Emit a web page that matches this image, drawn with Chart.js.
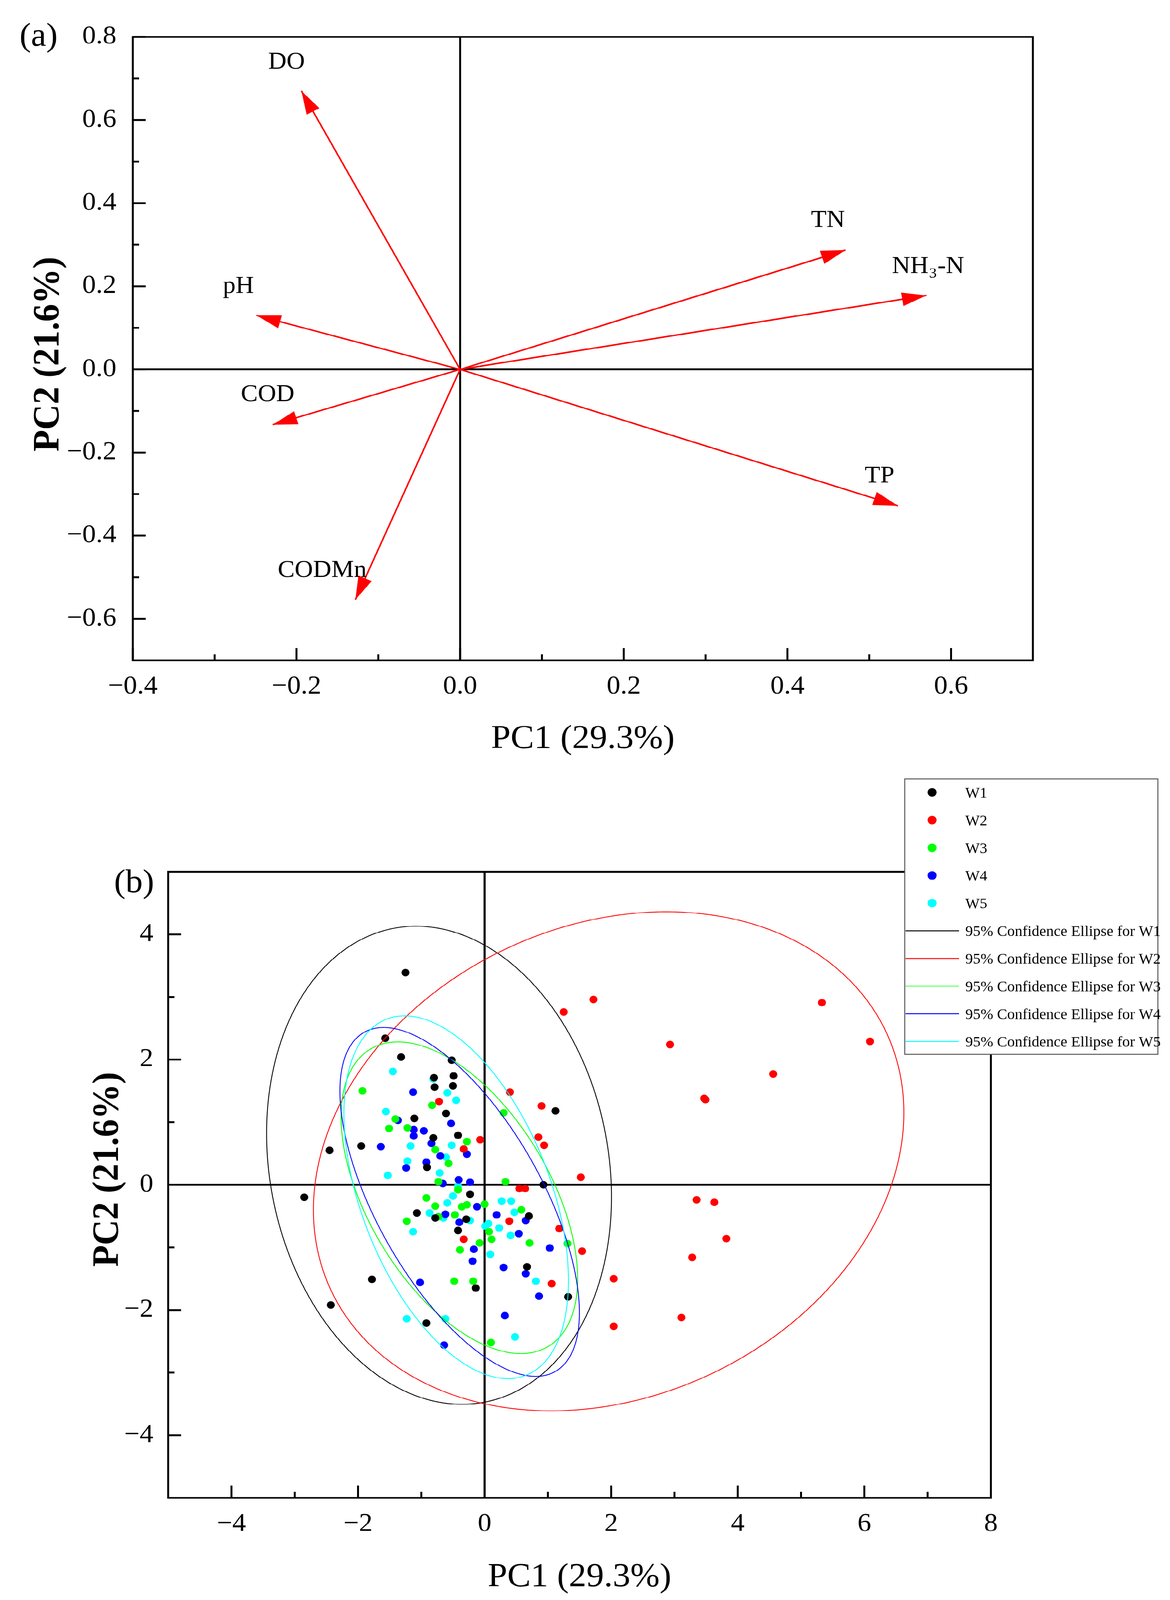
<!DOCTYPE html>
<html><head><meta charset="utf-8">
<script src="https://cdn.jsdelivr.net/npm/chart.js@4.4.1/dist/chart.umd.min.js"></script>
<style>html,body{margin:0;padding:0;background:#fff;overflow:hidden}#wrap{position:absolute;left:0;top:0;width:2995px;height:4337px;transform-origin:0 0}canvas{position:absolute;left:0}</style>
</head><body>
<div id="wrap">
<canvas id="ca" width="2995" height="2150" style="top:0px;width:2995px;height:2150px"></canvas>
<canvas id="cb" width="2995" height="2257" style="top:2080px;width:2995px;height:2257px"></canvas>
</div>
<script>
// ================= DATA =================
// Panel (a): PCA loadings
const loadingVars = ['DO', 'TN', 'NH₃-N', 'TP', 'pH', 'COD', 'CODMn'];
const loadingPC1 = [-0.194, 0.471, 0.570, 0.535, -0.249, -0.229, -0.128];
const loadingPC2 = [0.670, 0.287, 0.178, -0.328, 0.130, -0.133, -0.554];
const xTicksA = [-0.4, -0.2, 0, 0.2, 0.4, 0.6];
const xTickLabelsA = ['−0.4', '−0.2', '0.0', '0.2', '0.4', '0.6'];
const yTicksA = [0.8, 0.6, 0.4, 0.2, 0, -0.2, -0.4, -0.6];
const yTickLabelsA = ['0.8', '0.6', '0.4', '0.2', '0.0', '−0.2', '−0.4', '−0.6'];
const axisTitleXA = 'PC1 (29.3%)';
const axisTitleYA = 'PC2 (21.6%)';

// Panel (b): PCA scores
const groups = ['W1', 'W2', 'W3', 'W4', 'W5'];
const w1PC1 = [-1.25, -1.57, -1.32, -0.52, -0.49, -0.80, -0.79, -0.50, -0.61, -1.11, -0.42, -0.81, 1.12, -0.91, 0.93, -0.23, -1.07, -0.78, -0.29, -0.42, 0.70, 0.67, -0.14, 1.32, -0.92, -2.45, -1.95, -2.85, -1.78, -2.43];
const w1PC2 = [3.39, 2.34, 2.04, 1.99, 1.74, 1.71, 1.56, 1.58, 1.14, 1.06, 0.79, 0.75, 1.18, 0.28, 0.00, -0.15, -0.45, -0.53, -0.55, -0.73, -0.50, -1.31, -1.65, -1.79, -2.21, 0.55, 0.62, -0.20, -1.51, -1.92];
const w2PC1 = [-0.72, 0.40, 0.90, -0.07, -0.33, 0.85, 0.94, 0.55, 0.64, 1.25, 1.72, 2.93, 5.33, 6.09, 4.56, 3.47, 3.49, 1.52, 3.35, 3.63, 1.18, 1.54, 3.82, 3.28, 2.04, 1.06, 3.11, 2.04, 0.39, -0.33];
const w2PC2 = [1.33, 1.48, 1.26, 0.72, 0.57, 0.76, 0.63, -0.06, -0.06, 2.76, 2.96, 2.24, 2.91, 2.29, 1.77, 1.38, 1.36, 0.12, -0.24, -0.28, -0.70, -1.06, -0.86, -1.16, -1.50, -1.58, -2.12, -2.26, -0.58, -0.87];
const w3PC1 = [-1.93, -0.83, 0.30, -1.41, -1.51, -1.22, -0.28, -0.78, -0.57, -0.73, 0.33, -0.42, -0.92, -0.78, -0.73, -1.23, -0.47, -0.36, -0.28, 0.00, 0.58, 0.07, 0.11, -0.08, -0.39, 0.71, 1.31, -0.48, -0.18, 0.10];
const w3PC2 = [1.50, 1.27, 1.15, 1.05, 0.90, 0.91, 0.69, 0.56, 0.34, 0.05, 0.05, -0.08, -0.21, -0.34, -0.51, -0.58, -0.48, -0.35, -0.32, -0.31, -0.40, -0.75, -0.87, -0.93, -1.04, -0.93, -0.94, -1.54, -1.54, -2.52];
const w4PC1 = [-1.13, -1.37, -0.53, -1.12, -0.96, -1.12, -1.64, -0.84, -0.28, -0.70, -0.92, -1.24, -0.41, -0.23, -0.66, -0.62, -0.40, -0.12, 0.19, 0.65, 0.54, -0.17, -0.19, 0.30, 0.65, 1.03, -1.02, 0.86, 0.32, -0.64];
const w4PC2 = [1.48, 1.03, 0.98, 0.88, 0.86, 0.78, 0.61, 0.66, 0.49, 0.46, 0.36, 0.27, 0.08, 0.04, 0.02, -0.47, -0.60, -0.35, -0.48, -0.57, -0.78, -1.03, -1.22, -1.32, -1.42, -1.01, -1.56, -1.78, -2.09, -2.56];
const w5PC1 = [-1.45, -0.81, -0.59, -0.45, -1.56, -1.17, -0.52, -0.61, -1.22, -1.53, -0.71, -0.42, -0.50, -0.59, -0.87, -0.65, -0.23, -1.13, 0.27, 0.42, 0.47, 0.06, 0.01, 0.23, 0.41, 0.09, 0.81, -1.23, -0.62, 0.48];
const w5PC2 = [1.81, 1.69, 1.47, 1.35, 1.17, 0.62, 0.63, 0.44, 0.38, 0.15, 0.19, -0.02, -0.18, -0.29, -0.45, -0.53, -0.57, -0.75, -0.26, -0.26, -0.44, -0.62, -0.66, -0.69, -0.81, -1.11, -1.54, -2.14, -2.14, -2.43];
// 95% confidence ellipses: centre, half-width, half-height, correlation
const ellipseCX = [-0.720, 1.960, -0.399, -0.394, -0.449];
const ellipseCY = [0.312, 0.375, -0.207, -0.274, -0.199];
const ellipseRX = [2.725, 4.665, 1.869, 1.892, 1.774];
const ellipseRY = [3.818, 3.985, 2.489, 2.786, 2.897];
const ellipseRho = [-0.133, 0.195, -0.520, -0.635, -0.460];
const xTicksB = [-4, -2, 0, 2, 4, 6, 8];
const xTickLabelsB = ['−4', '−2', '0', '2', '4', '6', '8'];
const yTicksB = [4, 2, 0, -2, -4];
const yTickLabelsB = ['4', '2', '0', '−2', '−4'];
const axisTitleXB = 'PC1 (29.3%)';
const axisTitleYB = 'PC2 (21.6%)';
const ellipseLabelPrefix = '95% Confidence Ellipse for ';

// ================= STYLE =================
const FONT = "'Liberation Serif','Times New Roman','DejaVu Serif',serif";
const groupColors = ['#000000', '#FF0000', '#00FF00', '#0000FF', '#00FFFF'];
const arrowColor = '#FF0000';
const labelOffsets = [[-38, -78], [-45, -80], [4, -78], [-47, -80], [-46, -78], [-13, -81], [-85, -79]];
const scoresX = [w1PC1, w2PC1, w3PC1, w4PC1, w5PC1];
const scoresY = [w1PC2, w2PC2, w3PC2, w4PC2, w5PC2];

// fit the 2995x4337 composition into the actual viewport height if it is smaller
(function fit() {
  const sy = Math.min(1, (window.innerHeight || 4337) / 4337);
  if (sy < 1) document.getElementById('wrap').style.transform = 'scale(1,' + sy + ')';
})();

function tickLabel(vals, labels) { return v => { const i = vals.findIndex(t => Math.abs(t - v) < 1e-9); return i >= 0 ? labels[i] : ''; }; }

function drawFrameTicks(chart, xMaj, yMaj, xMinStep, yMinStep) {
  const { ctx, chartArea: a, scales: { x, y } } = chart;
  ctx.save();
  ctx.strokeStyle = '#000';
  ctx.lineWidth = 5;
  ctx.lineCap = 'butt';
  ctx.beginPath();
  xMaj.forEach(v => { const p = x.getPixelForValue(v); ctx.moveTo(p, a.bottom); ctx.lineTo(p, a.bottom - 33); });
  yMaj.forEach(v => { const p = y.getPixelForValue(v); ctx.moveTo(a.left, p); ctx.lineTo(a.left + 33, p); });
  const eps = 1e-6;
  for (let v = x.min + xMinStep; v < x.max - eps; v += xMinStep) {
    if (xMaj.some(m => Math.abs(m - v) < eps)) continue;
    const p = x.getPixelForValue(v); ctx.moveTo(p, a.bottom); ctx.lineTo(p, a.bottom - 16);
  }
  for (let v = y.min + yMinStep; v < y.max - eps; v += yMinStep) {
    if (yMaj.some(m => Math.abs(m - v) < eps)) continue;
    const p = y.getPixelForValue(v); ctx.moveTo(a.left, p); ctx.lineTo(a.left + 16, p);
  }
  ctx.stroke();
  ctx.lineWidth = 5;
  ctx.strokeRect(a.left, a.top, a.right - a.left, a.bottom - a.top);
  ctx.restore();
}
function drawZeroLines(chart, w) {
  const { ctx, chartArea: a, scales: { x, y } } = chart;
  ctx.save(); ctx.strokeStyle = '#000'; ctx.lineWidth = w;
  const x0 = x.getPixelForValue(0), y0 = y.getPixelForValue(0);
  ctx.beginPath(); ctx.moveTo(x0, a.top); ctx.lineTo(x0, a.bottom); ctx.moveTo(a.left, y0); ctx.lineTo(a.right, y0); ctx.stroke();
  ctx.restore();
}
function drawText(ctx, txt, x, y, font, align, base, rot) {
  ctx.save(); ctx.translate(x, y); if (rot) ctx.rotate(rot);
  ctx.font = font; ctx.fillStyle = '#000'; ctx.textAlign = align; ctx.textBaseline = base;
  ctx.fillText(txt, 0, 0); ctx.restore();
}

// ================= PANEL (a) =================
const pluginA = {
  id: 'decoA',
  beforeDatasetsDraw(chart) { drawZeroLines(chart, 5); },
  afterDatasetsDraw(chart) {
    const { ctx, scales: { x, y } } = chart;
    ctx.save();
    ctx.fillStyle = arrowColor;
    loadingVars.forEach((name, i) => {
      const tx = x.getPixelForValue(loadingPC1[i]), ty = y.getPixelForValue(loadingPC2[i]);
      const ox = x.getPixelForValue(0), oy = y.getPixelForValue(0);
      const ang = Math.atan2(ty - oy, tx - ox);
      const L = 63, W = 18.5;
      const bx = tx - L * Math.cos(ang), by = ty - L * Math.sin(ang);
      ctx.beginPath();
      ctx.moveTo(tx, ty);
      ctx.lineTo(bx + W * Math.sin(ang), by - W * Math.cos(ang));
      ctx.lineTo(bx - W * Math.sin(ang), by + W * Math.cos(ang));
      ctx.closePath(); ctx.fill();
      const off = labelOffsets[i];
      drawText(ctx, name, tx + off[0], ty + off[1], '65px ' + FONT, 'center', 'middle');
    });
    ctx.restore();
    drawFrameTicks(chart, xTicksA, yTicksA, 0.1, 0.1);
  },
  afterDraw(chart) {
    const { ctx, chartArea: a } = chart;
    drawText(ctx, '(a)', 50, 124, '88px ' + FONT, 'left', 'alphabetic');
    drawText(ctx, axisTitleXA, (a.left + a.right) / 2, 2028, '90px ' + FONT, 'center', 'alphabetic');
    drawText(ctx, axisTitleYA, 125, 960, 'bold 96px ' + FONT, 'center', 'middle', -Math.PI / 2);
  }
};

new Chart(document.getElementById('ca'), {
  type: 'scatter',
  data: {
    datasets: loadingVars.map((name, i) => ({
      label: name,
      data: [{ x: 0, y: 0 }, { x: loadingPC1[i], y: loadingPC2[i] }],
      showLine: true, borderColor: arrowColor, borderWidth: 4, pointRadius: 0, fill: false
    }))
  },
  options: {
    responsive: false, animation: false, devicePixelRatio: 1, events: [],
    layout: { padding: { left: 0, top: 100, right: 351, bottom: 60 } },
    plugins: { legend: { display: false }, tooltip: { enabled: false } },
    scales: {
      x: {
        type: 'linear', min: -0.4, max: 0.7,
        afterBuildTicks: s => { s.ticks = xTicksA.map(v => ({ value: v })); },
        afterFit: s => { s.height = 300; },
        grid: { display: false, drawTicks: false }, border: { display: false },
        ticks: { font: { family: FONT, size: 70 }, color: '#000', padding: 30, maxRotation: 0, autoSkip: false, callback: tickLabel(xTicksA, xTickLabelsA) }
      },
      y: {
        type: 'linear', min: -0.7, max: 0.8,
        afterBuildTicks: s => { s.ticks = yTicksA.map(v => ({ value: v })); },
        afterFit: s => { s.width = 340; },
        grid: { display: false, drawTicks: false }, border: { display: false },
        ticks: { font: { family: FONT, size: 70 }, color: '#000', padding: 42, autoSkip: false, callback: tickLabel(yTicksA, yTickLabelsA) }
      }
    }
  },
  plugins: [pluginA]
});

// ================= PANEL (b) =================
const pluginB = {
  id: 'decoB',
  beforeDatasetsDraw(chart) { drawZeroLines(chart, 5.5); },
  afterDatasetsDraw(chart) {
    const { ctx, scales: { x, y } } = chart;
    ctx.save();
    ctx.lineWidth = 2.2;
    groups.forEach((g, i) => {
      const d = Math.acos(ellipseRho[i]);
      ctx.strokeStyle = groupColors[i];
      ctx.beginPath();
      for (let k = 0; k <= 720; k++) {
        const t = k * Math.PI / 360;
        const px = x.getPixelForValue(ellipseCX[i] + ellipseRX[i] * Math.cos(t));
        const py = y.getPixelForValue(ellipseCY[i] + ellipseRY[i] * Math.cos(t - d));
        if (k === 0) ctx.moveTo(px, py); else ctx.lineTo(px, py);
      }
      ctx.closePath(); ctx.stroke();
    });
    ctx.restore();
    drawFrameTicks(chart, xTicksB, yTicksB, 1, 1);
  },
  afterDraw(chart) {
    const { ctx, chartArea: a } = chart;
    drawText(ctx, '(b)', 292, 338, '88px ' + FONT, 'left', 'alphabetic');
    drawText(ctx, axisTitleXB, (a.left + a.right) / 2, 2220, '90px ' + FONT, 'center', 'alphabetic');
    drawText(ctx, axisTitleYB, 277, 1090, 'bold 96px ' + FONT, 'center', 'middle', -Math.PI / 2);
    // legend
    const L = { left: 2316, top: 31, right: 2964, bottom: 778, y0: 68, step: 75, mx: 2386, mr: 11.5, lx0: 2318, lx1: 2455, tx: 2471 };
    ctx.save();
    ctx.fillStyle = '#fff';
    ctx.fillRect(L.left, L.top, L.right - L.left, L.bottom - L.top);
    ctx.strokeStyle = '#555'; ctx.lineWidth = 2.5;
    ctx.strokeRect(L.left, L.top, L.right - L.left, L.bottom - L.top);
    groups.forEach((g, i) => {
      const yy = L.y0 + L.step * i;
      ctx.fillStyle = groupColors[i];
      ctx.beginPath(); ctx.arc(L.mx, yy, L.mr, 0, Math.PI * 2); ctx.fill();
      drawText(ctx, g, L.tx, yy + 4, '39px ' + FONT, 'left', 'middle');
    });
    groups.forEach((g, i) => {
      const yy = L.y0 + L.step * (i + 5);
      ctx.strokeStyle = groupColors[i]; ctx.lineWidth = 2.5;
      ctx.beginPath(); ctx.moveTo(L.lx0, yy); ctx.lineTo(L.lx1, yy); ctx.stroke();
      drawText(ctx, ellipseLabelPrefix + g, L.tx, yy + 4, '39px ' + FONT, 'left', 'middle');
    });
    ctx.restore();
  }
};

new Chart(document.getElementById('cb'), {
  type: 'scatter',
  data: {
    datasets: groups.map((g, i) => ({
      label: g,
      data: scoresX[i].map((v, j) => ({ x: v, y: scoresY[i][j] })),
      backgroundColor: groupColors[i], borderColor: groupColors[i], borderWidth: 0, pointRadius: 10.3
    }))
  },
  options: {
    responsive: false, animation: false, devicePixelRatio: 1, events: [],
    layout: { padding: { left: 0, top: 283, right: 458.5, bottom: 27 } },
    plugins: { legend: { display: false }, tooltip: { enabled: false } },
    scales: {
      x: {
        type: 'linear', min: -5, max: 8,
        afterBuildTicks: s => { s.ticks = xTicksB.map(v => ({ value: v })); },
        afterFit: s => { s.height = 250; },
        grid: { display: false, drawTicks: false }, border: { display: false },
        ticks: { font: { family: FONT, size: 70 }, color: '#000', padding: 30, maxRotation: 0, autoSkip: false, callback: tickLabel(xTicksB, xTickLabelsB) }
      },
      y: {
        type: 'linear', min: -5, max: 5,
        afterBuildTicks: s => { s.ticks = yTicksB.map(v => ({ value: v })); },
        afterFit: s => { s.width = 430.5; },
        grid: { display: false, drawTicks: false }, border: { display: false },
        ticks: { font: { family: FONT, size: 70 }, color: '#000', padding: 38, autoSkip: false, callback: tickLabel(yTicksB, yTickLabelsB) }
      }
    }
  },
  plugins: [pluginB]
});
</script>
</body></html>
